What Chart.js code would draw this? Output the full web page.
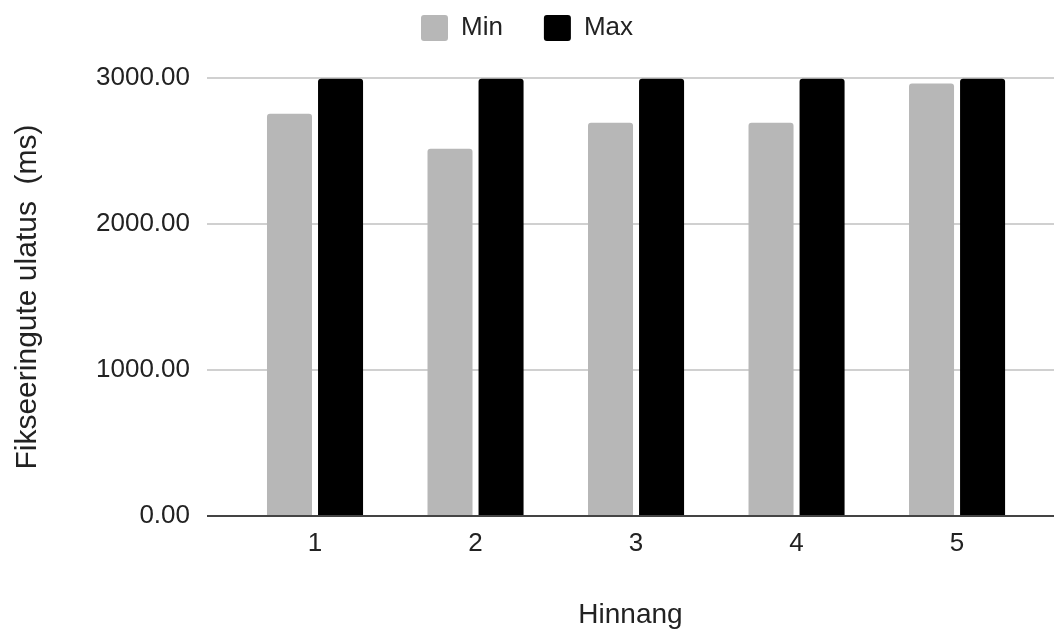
<!DOCTYPE html>
<html>
<head>
<meta charset="utf-8">
<script src="https://cdn.jsdelivr.net/npm/chart.js@4"></script>
<style>
  body { margin: 0; background: #fff; }
  #wrap { width: 1054px; height: 636px; }
</style>
</head>
<body>
<div id="wrap"><canvas id="myChart" width="1054" height="636"></canvas></div>
<script>
const hinnang = ['1', '2', '3', '4', '5'];
const hinnangPos = [1, 2, 3, 4, 5];
const minValues = [2755, 2515, 2693, 2693, 2962];
const maxValues = [2995, 2995, 2995, 2995, 2995];
const yTicks = [0, 1000, 2000, 3000];

const FONT = "'Liberation Sans', Arial, sans-serif";

// fixed legend band; with the -26 top padding the plot starts at the 3000 line
const legendBand = {
  id: 'legendBand',
  beforeLayout(chart) {
    const lg = chart.legend;
    if (lg && !lg._patched) {
      const fit = lg.fit;
      lg.fit = function () { fit.call(this); this.height = 104; };
      lg._patched = true;
    }
  }
};

function points(vals) {
  return vals.map((v, i) => ({ x: hinnangPos[i], y: v }));
}

const data = {
  datasets: [
    {
      label: 'Min',
      data: points(minValues),
      backgroundColor: '#b7b7b7',
      borderRadius: 3,
      categoryPercentage: 0.636,
      barPercentage: 0.882
    },
    {
      label: 'Max',
      data: points(maxValues),
      backgroundColor: '#000000',
      borderRadius: 3,
      categoryPercentage: 0.636,
      barPercentage: 0.882
    }
  ]
};

const config = {
  type: 'bar',
  data: data,
  plugins: [legendBand],
  options: {
    responsive: false,
    animation: false,
    layout: { padding: { top: -26, left: 0, right: 0, bottom: 0 } },
    plugins: {
      legend: {
        position: 'top',
        labels: {
          color: '#222',
          font: { family: FONT, size: 26 },
          boxWidth: 27,
          boxHeight: 26,
          useBorderRadius: true,
          borderRadius: 3,
          padding: 41
        }
      },
      tooltip: { enabled: false }
    },
    scales: {
      x: {
        type: 'linear',
        min: 0.327,
        max: 5.604,
        offset: false,
        grid: { display: false, offset: false },
        border: { display: false },
        afterBuildTicks(axis) {
          axis.ticks = hinnangPos.map(v => ({ value: v }));
        },
        afterFit(axis) { axis.height = 120; },
        ticks: {
          color: '#222',
          font: { family: FONT, size: 26 },
          padding: 4,
          maxRotation: 0,
          callback: (v) => hinnang[hinnangPos.indexOf(v)]
        },
        title: {
          display: true,
          text: 'Hinnang',
          color: '#222',
          font: { family: FONT, size: 28 },
          padding: { top: 0, bottom: 4 }
        }
      },
      y: {
        min: 0,
        max: 3000,
        grid: {
          drawTicks: false,
          lineWidth: 2,
          color: (ctx) => ctx.tick && ctx.tick.value === 0 ? '#444444' : '#d0d0d0'
        },
        border: { display: false },
        afterBuildTicks(axis) {
          axis.ticks = yTicks.map(v => ({ value: v }));
        },
        afterFit(axis) { axis.width = 207; },
        ticks: {
          color: '#222',
          font: { family: FONT, size: 26 },
          padding: 17,
          callback: (v) => Number(v).toFixed(2)
        },
        title: {
          display: true,
          text: 'Fikseeringute ulatus  (ms)',
          color: '#222',
          font: { family: FONT, size: 30 },
          padding: { top: 10, bottom: 0 }
        }
      }
    }
  }
};

const myChart = new Chart(document.getElementById('myChart'), config);
</script>
</body>
</html>
